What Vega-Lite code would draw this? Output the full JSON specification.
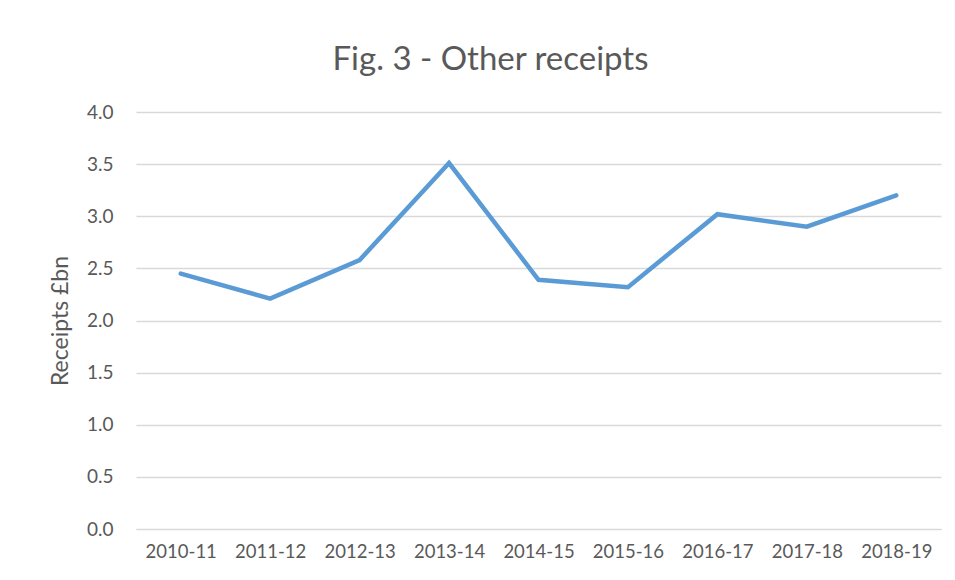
{
  "$schema": "https://vega.github.io/schema/vega-lite/v6.json",
  "autosize": "none",
  "width": 805,
  "height": 417,
  "padding": {"left": 136, "top": 112, "right": 14, "bottom": 51},
  "background": "white",
  "config": {
    "font": "Lato",
    "view": {"stroke": null}
  },
  "title": {
    "text": "Fig. 3 - Other receipts",
    "font": "Lato",
    "fontSize": 33,
    "fontWeight": "normal",
    "color": "#595959",
    "anchor": "middle",
    "dx": -48,
    "offset": 26
  },
  "data": {
    "values": [
      {"year": "2010-11", "receipts": 2.45},
      {"year": "2011-12", "receipts": 2.21},
      {"year": "2012-13", "receipts": 2.58},
      {"year": "2013-14", "receipts": 3.51},
      {"year": "2014-15", "receipts": 2.39},
      {"year": "2015-16", "receipts": 2.32},
      {"year": "2016-17", "receipts": 3.02},
      {"year": "2017-18", "receipts": 2.9},
      {"year": "2018-19", "receipts": 3.2}
    ]
  },
  "mark": {"type": "line", "color": "#5b9bd5", "strokeWidth": 4.5, "strokeJoin": "miter", "strokeCap": "round"},
  "encoding": {
    "x": {
      "field": "year",
      "type": "ordinal",
      "scale": {"type": "point", "padding": 0.5},
      "axis": {
        "title": null,
        "labelAngle": 0,
        "labelFontSize": 18.5,
        "labelColor": "#595959",
        "labelPadding": 13,
        "domain": true,
        "domainColor": "#d9d9d9",
        "ticks": false,
        "grid": false
      }
    },
    "y": {
      "field": "receipts",
      "type": "quantitative",
      "scale": {"domain": [0, 4], "nice": false},
      "axis": {
        "title": "Receipts £bn",
        "titleFontSize": 23,
        "titleFontWeight": "normal",
        "titleColor": "#595959",
        "titlePadding": 14,
        "values": [0, 0.5, 1, 1.5, 2, 2.5, 3, 3.5, 4],
        "format": ".1f",
        "labelFontSize": 19,
        "labelColor": "#595959",
        "labelPadding": 23,
        "domain": false,
        "ticks": false,
        "grid": true,
        "gridColor": "#d9d9d9",
        "gridWidth": 1.3
      }
    }
  }
}
